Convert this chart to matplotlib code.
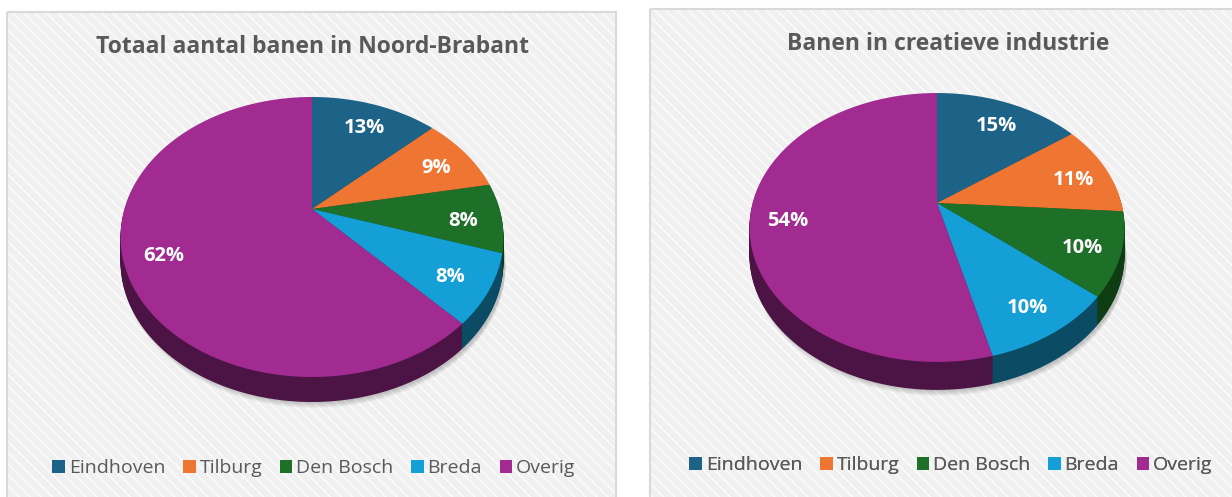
import numpy as np
import matplotlib
matplotlib.use("Agg")
import matplotlib.pyplot as plt
from matplotlib.transforms import Transform, Affine2D
from matplotlib.patches import Rectangle, Patch
from matplotlib.path import Path

# ---------------- data ----------------
categories = ["Eindhoven", "Tilburg", "Den Bosch", "Breda", "Overig"]
total_jobs = [13, 9, 8, 8, 62]          # % of all jobs in Noord-Brabant
creative_jobs = [15, 11, 10, 10, 54]    # % of jobs in creative industry
titles = ["Totaal aantal banen in Noord-Brabant", "Banen in creatieve industrie"]

top_colors = ["#1d6388", "#ef7533", "#1e7029", "#14a0d6", "#a22b92"]
side_colors = ["#0f3a52", "#8c3f16", "#0e3d14", "#0b4b64", "#4c1445"]

W, H = 1232, 497
plt.rcParams["font.family"] = ["Open Sans", "DejaVu Sans"]
plt.rcParams["hatch.linewidth"] = 1.2
TXT = "#595959"


class Perspective(Transform):
    """Projects the flat unit disc of a pie into a tilted (3-D looking) view."""
    input_dims = 2
    output_dims = 2
    is_separable = False
    has_inverse = False

    def __init__(self, a, b, k):
        super().__init__()
        self.a, self.b, self.k = a, b, k

    def transform_non_affine(self, values):
        v = np.asarray(values, dtype=float).reshape(-1, 2)
        x, z = v[:, 0], v[:, 1]
        w = 1.0 + self.k * z
        return np.column_stack([self.b * x / w, -self.a * z / w])

    def transform_path_non_affine(self, path):
        pts = []
        for bez, code in path.iter_bezier():
            cp = bez.control_points
            if len(cp) == 1:
                pts.append(cp[0])
            else:
                pts.extend(bez(np.linspace(0, 1, 30))[1:])
        pts = np.array(pts)
        return Path(self.transform_non_affine(pts), closed=True)


fig = plt.figure(figsize=(W / 100, H / 100), dpi=100)
fig.patch.set_facecolor("white")
ax = fig.add_axes([0, 0, 1, 1])

panels = [
    dict(vals=total_jobs, title=titles[0], box=(7, 12, 609, 500), cx=312, cy=209,
         a=134.4, b=187.6, k=0.20, depth=25, tx=312, ty=47, lx=314, ly=468),
    dict(vals=creative_jobs, title=titles[1], box=(650, 9, 600, 500), cx=937, cy=203,
         a=130.0, b=184.4, k=0.182, depth=28, tx=948, ty=44, lx=951, ly=465),
]

for p in panels:
    x0, y0, w, h = p["box"]
    ax.add_patch(Rectangle((x0, y0), w, h, facecolor="#f0f0f0", edgecolor="#fbfbfb",
                           hatch="\\\\\\", linewidth=0, zorder=0))
    ax.add_patch(Rectangle((x0, y0), w, h, facecolor="none", edgecolor="#d9d9d9",
                           linewidth=1.5, zorder=1))
    ax.text(p["tx"], p["ty"], p["title"],
            ha="center", va="center", fontsize=16.5, fontweight="bold", color=TXT, zorder=5)

    persp = Perspective(p["a"], p["b"], p["k"])

    # soft shadow
    for d in range(p["depth"] + 6, p["depth"], -1):
        wedges, _ = ax.pie(p["vals"], startangle=90, counterclock=False,
                           colors=["#000000"] * 5, wedgeprops=dict(linewidth=0, alpha=0.035))
        for wdg in wedges:
            wdg.set_transform(persp + Affine2D().translate(p["cx"] + 2, p["cy"] + d) + ax.transData)
            wdg.set_zorder(2)

    # side of the pie
    for d in range(p["depth"], 0, -1):
        wedges, _ = ax.pie(p["vals"], startangle=90, counterclock=False,
                           colors=side_colors, wedgeprops=dict(linewidth=0))
        for wdg in wedges:
            wdg.set_transform(persp + Affine2D().translate(p["cx"], p["cy"] + d) + ax.transData)
            wdg.set_zorder(3)

    # top face
    wedges, _, autotexts = ax.pie(p["vals"], startangle=90, counterclock=False,
                                  colors=top_colors, autopct="%1.0f%%", pctdistance=0.8,
                                  wedgeprops=dict(linewidth=0),
                                  textprops=dict(color="white", fontsize=14.5, fontweight="bold"))
    for wdg in wedges:
        wdg.set_transform(persp + Affine2D().translate(p["cx"], p["cy"]) + ax.transData)
        wdg.set_zorder(4)
    for t in autotexts:
        t.set_transform(persp + Affine2D().translate(p["cx"], p["cy"] + 5) + ax.transData)
        t.set_zorder(6)

    handles = [Patch(facecolor=c, edgecolor="none", label=lab)
               for c, lab in zip(top_colors, categories)]
    leg = ax.legend(handles=handles, loc="center", bbox_to_anchor=(p["lx"] / W, 1 - p["ly"] / H),
                    bbox_transform=fig.transFigure, ncol=5, frameon=False, fontsize=14,
                    handlelength=0.65, handleheight=0.65, handletextpad=0.2, columnspacing=0.9,
                    labelcolor=TXT, borderpad=0)
    ax.add_artist(leg)

ax.set_aspect("auto")
ax.set_xlim(0, W)
ax.set_ylim(H, 0)
ax.axis("off")

fig.savefig("out.png", dpi=100, facecolor="white")
